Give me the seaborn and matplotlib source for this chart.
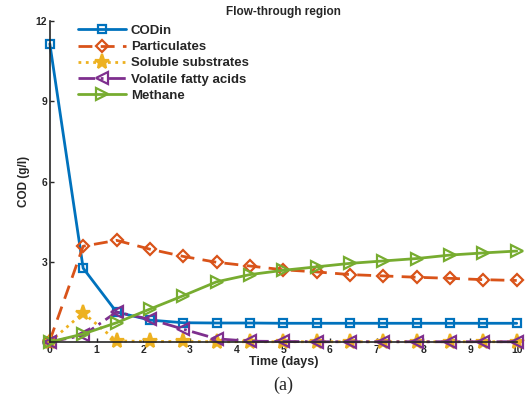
import numpy as np
import pandas as pd
import matplotlib
matplotlib.use("Agg")
import matplotlib.pyplot as plt
import seaborn as sns

# time points (days)
time = [0, 0.714, 1.429, 2.143, 2.857, 3.571, 4.286, 5.0, 5.714, 6.429, 7.143, 7.857, 8.571, 9.286, 10.0]

codin = [11.15, 2.76, 1.12, 0.82, 0.72, 0.71, 0.71, 0.70, 0.70, 0.70, 0.70, 0.70, 0.70, 0.70, 0.70]
particulates = [0.05, 3.58, 3.80, 3.47, 3.20, 2.98, 2.84, 2.70, 2.62, 2.52, 2.47, 2.42, 2.38, 2.33, 2.30]
soluble = [0.0, 1.09, 0.04, 0.02, 0.02, 0.01, 0.01, 0.01, 0.01, 0.01, 0.01, 0.01, 0.01, 0.01, 0.01]
vfa = [0.0, 0.25, 1.12, 0.85, 0.48, 0.12, 0.03, 0.02, 0.01, 0.01, 0.01, 0.01, 0.01, 0.01, 0.01]
methane = [0.0, 0.30, 0.72, 1.23, 1.73, 2.25, 2.52, 2.68, 2.81, 2.94, 3.03, 3.12, 3.25, 3.33, 3.40]

series = [
    ("CODin", codin, "#0072BD", "-", "s", "none", 6),
    ("Particulates", particulates, "#D95319", (0, (5, 3)), "D", "none", 6),
    ("Soluble substrates", soluble, "#EDB120", ":", "*", "#EDB120", 11),
    ("Volatile fatty acids", vfa, "#7E2F8E", (0, (6, 2, 1, 2)), "<", "none", 8),
    ("Methane", methane, "#77AC30", "-", ">", "none", 8),
]

sns.set_style("ticks")
plt.rcParams["font.family"] = ["Liberation Sans", "DejaVu Sans"]
plt.rcParams["font.weight"] = "bold"

fig = plt.figure(figsize=(5.3, 4), dpi=100)
ax = fig.add_axes([0.094, 0.145, 0.881, 0.8025])

for name, vals, col, ls, mk, mfc, ms in series:
    df = pd.DataFrame({"t": time, "v": vals})
    sns.lineplot(data=df, x="t", y="v", ax=ax, color=col, linestyle=ls, linewidth=2,
                 marker=mk, markersize=ms, markerfacecolor=mfc, markeredgecolor=col,
                 markeredgewidth=1.6, label=name, clip_on=False)

ax.set_xlim(0, 10)
ax.set_ylim(0, 12)
ax.set_xticks(range(0, 11))
ax.set_yticks([0, 3, 6, 9, 12])
ax.tick_params(direction="in", length=3, width=1, labelsize=7.5, pad=2)
for lab in ax.get_xticklabels() + ax.get_yticklabels():
    lab.set_fontweight("bold")
sns.despine(ax=ax)
for sp in ["left", "bottom"]:
    ax.spines[sp].set_linewidth(1.2)
    ax.spines[sp].set_color("#262626")

ax.set_xlabel("Time (days)", fontsize=9, fontweight="bold", labelpad=1)
ax.set_ylabel("COD (g/l)", fontsize=8.5, fontweight="bold", labelpad=4)
ax.set_title("Flow-through region", fontsize=8.5, fontweight="bold", pad=4)

leg = ax.legend(loc="upper left", bbox_to_anchor=(0.035, 1.025), frameon=False,
                handlelength=3.6, labelspacing=0.3, handletextpad=0.4, fontsize=9.5)
for t in leg.get_texts():
    t.set_fontweight("bold")

fig.text(0.534, 0.015, "(a)", fontsize=13, family="Liberation Serif", fontweight="normal",
         ha="center", va="bottom")

fig.savefig("out.png", dpi=100)
